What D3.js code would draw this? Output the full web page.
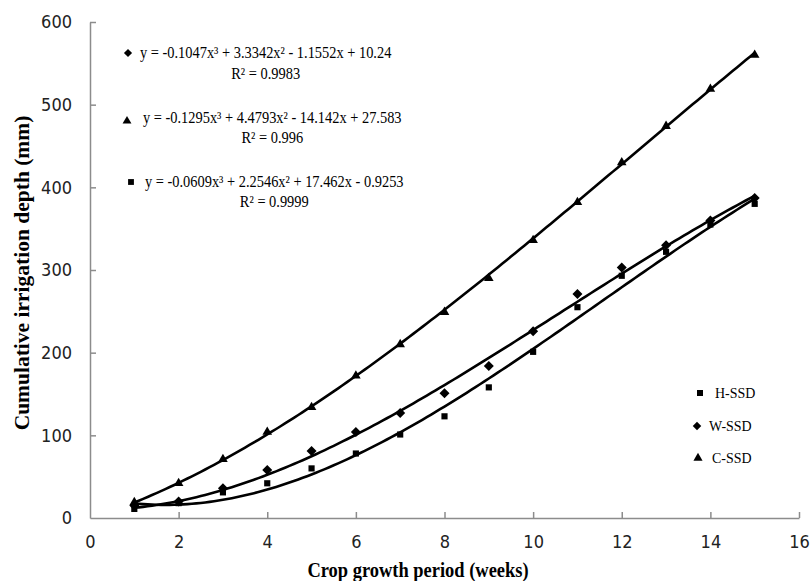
<!DOCTYPE html>
<html>
<head>
<meta charset="utf-8">
<script src="https://cdn.jsdelivr.net/npm/d3@7"></script>
<style>
  body { margin: 0; background: #fff; }
  .tick text { font-family: "Liberation Sans Narrow", "DejaVu Sans Condensed", sans-serif; font-size: 18px; fill: #222; }
  .serif { font-family: "Liberation Serif", "Times New Roman", serif; fill: #000; }
</style>
</head>
<body>
<div></div>
<script>
// cumulative irrigation depth per week
var weeks = [1, 2, 3, 4, 5, 6, 7, 8, 9, 10, 11, 12, 13, 14, 15];
var hSSD = [11, 18, 31, 42, 60, 78, 101, 123, 158, 201, 255, 293, 322, 355, 380];
var wSSD = [15, 20, 36, 58, 81, 104, 127, 151, 184, 226, 271, 303, 330, 360, 387];
var cSSD = [19, 42, 71, 104, 134, 172, 210, 249, 290, 336, 382, 430, 474, 519, 560];

// cubic trendline coefficients [x3, x2, x1, x0], as printed on the chart
var fitW = [-0.1047, 3.3342, -1.1552, 10.24];
var fitH = [-0.1295, 4.4793, -14.142, 27.583];
var fitC = [-0.0609, 2.2546, 17.462, -0.9253];

var eqLines = [
  ["y = -0.1047x³ + 3.3342x² - 1.1552x + 10.24", "R² = 0.9983"],
  ["y = -0.1295x³ + 4.4793x² - 14.142x + 27.583", "R² = 0.996"],
  ["y = -0.0609x³ + 2.2546x² + 17.462x - 0.9253", "R² = 0.9999"]
];

var seriesNames = ["H-SSD", "W-SSD", "C-SSD"];
var xTicks = [0, 2, 4, 6, 8, 10, 12, 14, 16];
var yTicks = [0, 100, 200, 300, 400, 500, 600];

var width = 811,
    height = 581;

var x = d3.scaleLinear().domain([0, 16]).range([90, 799]);
var y = d3.scaleLinear().domain([0, 600]).range([518, 22]);

var svg = d3.select("div").append("svg")
    .attr("width", width)
    .attr("height", height);

// small square diamond (rotated square), like the excel marker
var diamond = {
  draw: function(ctx, size) {
    var r = Math.sqrt(size / 2);
    ctx.moveTo(0, -r); ctx.lineTo(r, 0); ctx.lineTo(0, r); ctx.lineTo(-r, 0); ctx.closePath();
  }
};
var symbols = [d3.symbolSquare, diamond, d3.symbolTriangle];
var eqSymbols = [diamond, d3.symbolTriangle, d3.symbolSquare];

// axes, ticks pointing inward
var xAxis = svg.append("g")
    .attr("transform", "translate(0," + y(0) + ")")
    .call(d3.axisBottom(x).tickValues(xTicks).tickSizeInner(-6).tickSizeOuter(0).tickPadding(17));
var yAxis = svg.append("g")
    .attr("transform", "translate(" + x(0) + ",0)")
    .call(d3.axisLeft(y).tickValues(yTicks).tickSizeInner(-6).tickSizeOuter(0).tickPadding(18));
svg.selectAll(".domain, .tick line").attr("stroke", "#8c8c8c").attr("stroke-width", 1.5);
xAxis.selectAll(".tick").filter(function(d) { return d === 0; }).select("line").remove();
yAxis.selectAll(".tick").filter(function(d) { return d === 0; }).select("line").remove();

function poly(c) {
  return function(t) { return c[0] * t * t * t + c[1] * t * t + c[2] * t + c[3]; };
}

// trendlines
var line = d3.line().x(function(d) { return x(d[0]); }).y(function(d) { return y(d[1]); });
var fits = [fitH, fitW, fitC];
fits.forEach(function(c) {
  var f = poly(c);
  var pts = d3.range(1, 15.001, 0.1).map(function(t) { return [t, f(t)]; });
  svg.append("path")
      .datum(pts)
      .attr("d", line)
      .attr("fill", "none")
      .attr("stroke", "#000")
      .attr("stroke-width", 2.6);
});

// markers
var sizes = [38, 50, 40];
[hSSD, wSSD, cSSD].forEach(function(vals, k) {
  svg.append("g").selectAll("path")
      .data(vals)
      .enter().append("path")
      .attr("transform", function(d, i) { return "translate(" + x(weeks[i]) + "," + y(d) + ")"; })
      .attr("d", d3.symbol().type(symbols[k]).size(sizes[k]))
      .attr("fill", "#000");
});

// equations
var eqPos = [[140, 58, 79, 128, 53], [143, 123, 143, 127, 121], [145, 187, 207, 131, 182]];
var squeeze = 0.9;
eqLines.forEach(function(l, i) {
  var p = eqPos[i];
  var t1 = svg.append("text")
      .attr("class", "serif")
      .attr("transform", "translate(" + p[0] + "," + p[1] + ") scale(" + squeeze + ",1)")
      .style("font-size", "16px")
      .text(l[0]);
  var w = t1.node().getComputedTextLength() * squeeze;
  svg.append("text")
      .attr("class", "serif")
      .attr("transform", "translate(" + (p[0] + w / 2) + "," + p[2] + ") scale(" + squeeze + ",1)")
      .attr("text-anchor", "middle")
      .style("font-size", "16px")
      .text(l[1]);
  svg.append("path")
      .attr("transform", "translate(" + p[3] + "," + p[4] + ")")
      .attr("d", d3.symbol().type(eqSymbols[i]).size(34))
      .attr("fill", "#000");
});

// legend
legend(700, 393, 715, 398, seriesNames[0], symbols[0]);
legend(697, 426, 709, 431, seriesNames[1], symbols[1]);
legend(698, 458, 712, 463, seriesNames[2], symbols[2]);

function legend(sx, sy, tx, ty, text, sym) {
  svg.append("path")
      .attr("transform", "translate(" + sx + "," + sy + ")")
      .attr("d", d3.symbol().type(sym).size(36))
      .attr("fill", "#000");
  svg.append("text")
      .attr("class", "serif")
      .attr("transform", "translate(" + tx + "," + ty + ") scale(" + squeeze + ",1)")
      .style("font-size", "15.5px")
      .text(text);
}

// axis titles
svg.append("text")
    .attr("class", "serif")
    .attr("transform", "translate(418,577) scale(" + squeeze + ",1)")
    .attr("text-anchor", "middle")
    .style("font-size", "20.5px")
    .style("font-weight", "bold")
    .text("Crop growth period (weeks)");
svg.append("text")
    .attr("class", "serif")
    .attr("transform", "translate(29,273) rotate(-90)")
    .attr("text-anchor", "middle")
    .style("font-size", "21.5px")
    .style("font-weight", "bold")
    .text("Cumulative irrigation depth (mm)");
</script>
</body>
</html>
